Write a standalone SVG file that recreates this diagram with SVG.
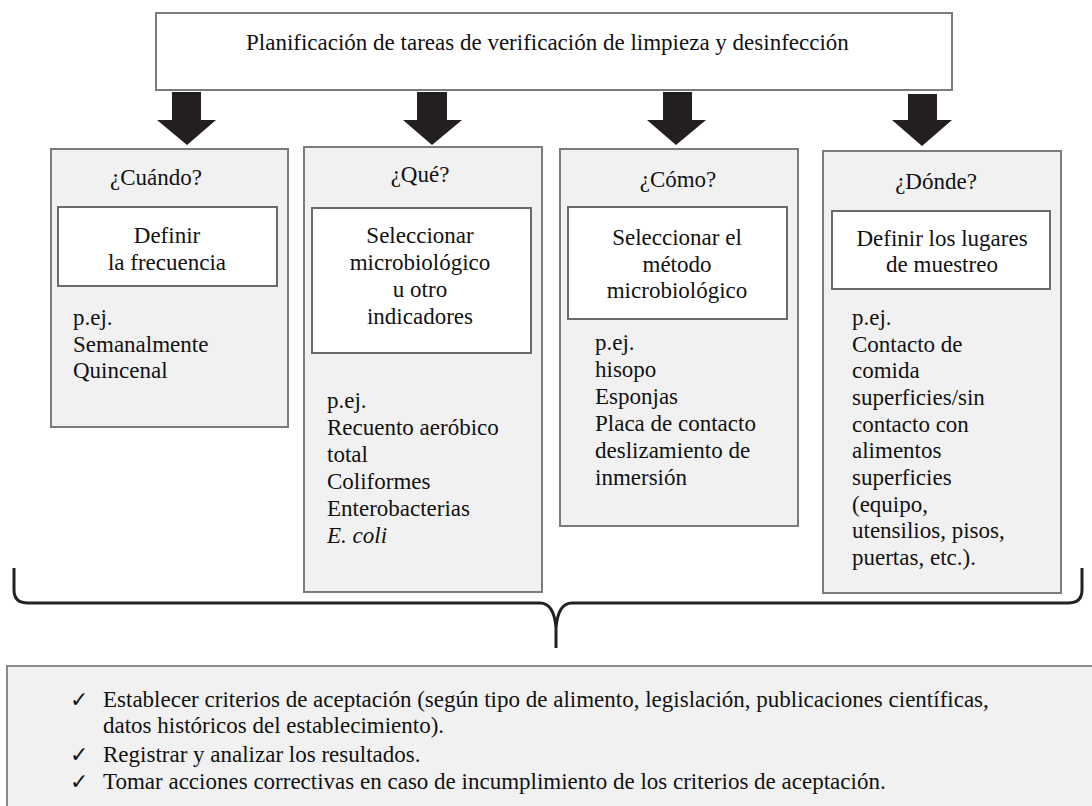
<svg xmlns="http://www.w3.org/2000/svg" width="1092" height="806" viewBox="0 0 1092 806">
<defs>
<style>
.c{text-anchor:middle;}
.box{fill:#f1f1f1;stroke:#7c7c7c;stroke-width:2;}
.inner{fill:#fff;stroke:#6a6a6a;stroke-width:2;}
.top{fill:#fff;stroke:#7c7c7c;stroke-width:2;}
.arrow{fill:#231f20;}
.brace{fill:none;stroke:#222;stroke-width:3;stroke-linejoin:round;}
</style>
</defs>
<rect width="1092" height="806" fill="#fff"/>

<g id="top" font-family="'Liberation Serif', serif" font-size="23" fill="#111">
<rect class="top" x="156" y="13" width="796" height="77"/>
<text x="246" y="50">Planificación de tareas de verificación de limpieza y desinfección</text>
</g>

<g id="connectors">
<polygon class="arrow" points="172,92 201,92 201,120 216,120 187,145 157,120 172,120"/>
<polygon class="arrow" points="417,92 447,92 447,120 462,120 432,145 403,120 417,120"/>
<polygon class="arrow" points="663,92 692,92 692,120 706,120 676,145 647,120 663,120"/>
<polygon class="arrow" points="908,94 937,94 937,120 952,120 922,146 892,120 908,120"/>
<path class="brace" d="M14 568 L14 590 Q14 603 28 603 L540 603 Q554 603 556 628 L556 648 M556 628 Q558 603 572 603 L1068 603 Q1082 603 1082 590 L1082 568"/>
</g>

<g id="cuando" font-family="'Liberation Serif', serif" font-size="23" fill="#111">
<rect class="box" x="51" y="149" width="237" height="278"/>
<text class="c" x="156" y="185">¿Cuándo?</text>
<rect class="inner" x="58" y="207" width="219" height="79"/>
<text class="c" x="167" y="243">Definir</text>
<text class="c" x="167" y="270">la frecuencia</text>
<text x="73" y="325">p.ej.</text>
<text x="73" y="352">Semanalmente</text>
<text x="73" y="378">Quincenal</text>
</g>

<g id="que" font-family="'Liberation Serif', serif" font-size="23" fill="#111">
<rect class="box" x="304" y="147" width="238" height="445"/>
<text class="c" x="420" y="182">¿Qué?</text>
<rect class="inner" x="312" y="208" width="219" height="145"/>
<text class="c" x="420" y="243">Seleccionar</text>
<text class="c" x="420" y="270">microbiológico</text>
<text class="c" x="420" y="297">u otro</text>
<text class="c" x="420" y="324">indicadores</text>
<text x="327" y="408">p.ej.</text>
<text x="327" y="435">Recuento aeróbico</text>
<text x="327" y="462">total</text>
<text x="327" y="489">Coliformes</text>
<text x="327" y="516">Enterobacterias</text>
<text x="327" y="543" font-style="italic">E. coli</text>
</g>

<g id="como" font-family="'Liberation Serif', serif" font-size="23" fill="#111">
<rect class="box" x="560" y="149" width="238" height="377"/>
<text class="c" x="678" y="187">¿Cómo?</text>
<rect class="inner" x="568" y="207" width="219" height="112"/>
<text class="c" x="677" y="245">Seleccionar el</text>
<text class="c" x="677" y="272">método</text>
<text class="c" x="677" y="298">microbiológico</text>
<text x="595" y="350">p.ej.</text>
<text x="595" y="377">hisopo</text>
<text x="595" y="404">Esponjas</text>
<text x="595" y="431">Placa de contacto</text>
<text x="595" y="458">deslizamiento de</text>
<text x="595" y="485">inmersión</text>
</g>

<g id="donde" font-family="'Liberation Serif', serif" font-size="23" fill="#111">
<rect class="box" x="823" y="151" width="238" height="442"/>
<text class="c" x="936" y="189">¿Dónde?</text>
<rect class="inner" x="832" y="211" width="218" height="78"/>
<text class="c" x="942" y="246">Definir los lugares</text>
<text class="c" x="942" y="272">de muestreo</text>
<text x="852" y="325">p.ej.</text>
<text x="852" y="352">Contacto de</text>
<text x="852" y="378">comida</text>
<text x="852" y="405">superficies/sin</text>
<text x="852" y="432">contacto con</text>
<text x="852" y="458">alimentos</text>
<text x="852" y="485">superficies</text>
<text x="852" y="512">(equipo,</text>
<text x="852" y="538">utensilios, pisos,</text>
<text x="852" y="565">puertas, etc.).</text>
</g>

<g id="acciones" font-family="'Liberation Serif', serif" font-size="23" fill="#111">
<rect x="7" y="666" width="1100" height="150" fill="#f1f1f1" stroke="#8a8a8a" stroke-width="2"/>
<text x="70" y="707" font-family="'DejaVu Serif', 'DejaVu Sans', serif" font-size="22">✓</text>
<text x="103" y="707">Establecer criterios de aceptación (según tipo de alimento, legislación, publicaciones científicas,</text>
<text x="103" y="733">datos históricos del establecimiento).</text>
<text x="70" y="762" font-family="'DejaVu Serif', 'DejaVu Sans', serif" font-size="22">✓</text>
<text x="103" y="762">Registrar y analizar los resultados.</text>
<text x="70" y="789" font-family="'DejaVu Serif', 'DejaVu Sans', serif" font-size="22">✓</text>
<text x="103" y="789">Tomar acciones correctivas en caso de incumplimiento de los criterios de aceptación.</text>
</g>
</svg>
